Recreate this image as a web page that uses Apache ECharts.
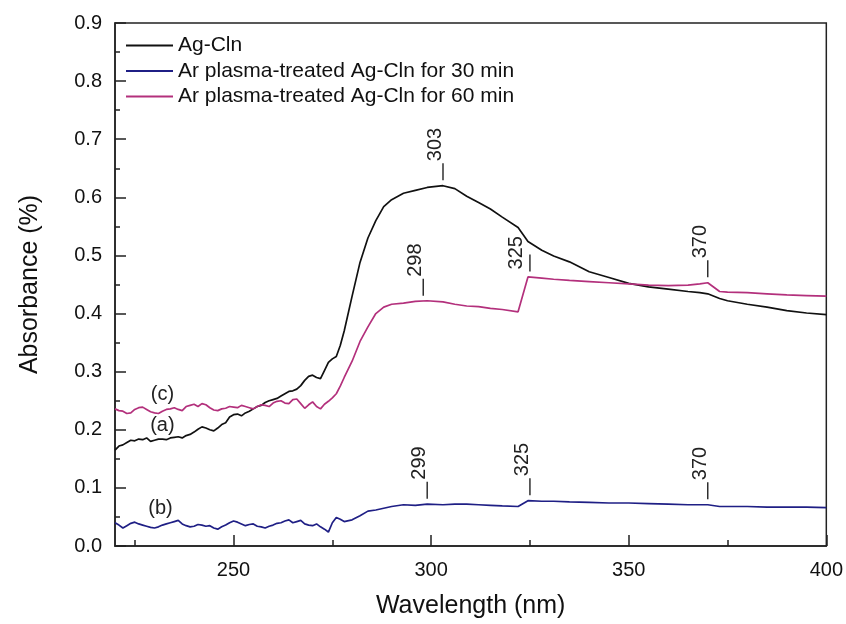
<!DOCTYPE html>
<html>
<head>
<meta charset="utf-8">
<script src="https://cdn.jsdelivr.net/npm/echarts@6/dist/echarts.min.js"></script>
<style>
  html, body { margin: 0; background: #fff; }
  #chart { width: 846px; height: 624px; }
</style>
</head>
<body>
<div id="chart"></div>
<script>
// wavelength grid (nm) shared by all three spectra
const wavelength = [220, 221, 222, 223, 224, 225, 226, 227, 228, 229, 230, 231, 232, 233, 234, 235,
  236, 237, 238, 239, 240, 241, 242, 243, 244, 245, 246, 247, 248, 249, 250, 251, 252, 253, 254, 255,
  256, 257, 258, 259, 260, 261, 262, 263, 264, 265, 266, 267, 268, 269, 270, 271, 272, 273, 274, 275,
  276, 277, 278,
  280, 282, 284, 286, 288, 290, 293, 296, 299, 303, 306, 309, 312, 315, 318, 322, 324.5, 328, 331,
  335, 340, 345, 350, 355, 360, 365, 368, 370, 373, 375, 380, 385, 390, 395, 400];

// (a) Ag-Cln
const agCln = [0.165, 0.172, 0.174, 0.178, 0.182, 0.181, 0.184, 0.183, 0.186, 0.180, 0.182, 0.184,
  0.184, 0.183, 0.186, 0.187, 0.188, 0.186, 0.190, 0.192, 0.196, 0.201, 0.205, 0.203, 0.200, 0.198,
  0.203, 0.209, 0.212, 0.222, 0.226, 0.227, 0.224, 0.229, 0.232, 0.236, 0.240, 0.242, 0.247, 0.250,
  0.252, 0.254, 0.258, 0.262, 0.266, 0.267, 0.270, 0.276, 0.285, 0.292, 0.294, 0.290, 0.288, 0.302,
  0.316, 0.322, 0.326, 0.345, 0.370,
  0.430, 0.488, 0.530, 0.560, 0.584, 0.596, 0.607, 0.612, 0.617, 0.620, 0.615, 0.602, 0.591, 0.580,
  0.566, 0.548, 0.524, 0.509, 0.499, 0.489, 0.472, 0.462, 0.452, 0.446, 0.442, 0.438, 0.436, 0.434,
  0.426, 0.422, 0.416, 0.411, 0.405, 0.401, 0.398];

// (b) Ar plasma 30 min
const plasma30 = [0.040, 0.036, 0.031, 0.035, 0.039, 0.041, 0.038, 0.036, 0.034, 0.032, 0.031, 0.033,
  0.036, 0.038, 0.040, 0.042, 0.044, 0.038, 0.035, 0.033, 0.034, 0.037, 0.036, 0.034, 0.035, 0.031,
  0.029, 0.033, 0.036, 0.040, 0.043, 0.041, 0.038, 0.035, 0.037, 0.038, 0.034, 0.033, 0.031, 0.034,
  0.036, 0.039, 0.040, 0.043, 0.045, 0.040, 0.042, 0.044, 0.038, 0.036, 0.035, 0.038, 0.033, 0.029,
  0.024, 0.040, 0.049, 0.046, 0.042,
  0.045, 0.052, 0.060, 0.062, 0.065, 0.068, 0.071, 0.070, 0.072, 0.071, 0.072, 0.072, 0.071, 0.070,
  0.069, 0.068, 0.078, 0.077, 0.077, 0.076, 0.075, 0.074, 0.074, 0.073, 0.072, 0.071, 0.071, 0.071,
  0.068, 0.068, 0.068, 0.067, 0.067, 0.067, 0.066];

// (c) Ar plasma 60 min
const plasma60 = [0.236, 0.233, 0.232, 0.228, 0.229, 0.235, 0.238, 0.239, 0.235, 0.231, 0.229, 0.228,
  0.232, 0.235, 0.236, 0.238, 0.235, 0.233, 0.240, 0.242, 0.244, 0.240, 0.245, 0.243, 0.238, 0.234,
  0.233, 0.236, 0.237, 0.240, 0.239, 0.238, 0.242, 0.240, 0.238, 0.236, 0.240, 0.243, 0.242, 0.240,
  0.246, 0.249, 0.250, 0.246, 0.245, 0.252, 0.253, 0.245, 0.237, 0.243, 0.248, 0.240, 0.236, 0.244,
  0.249, 0.255, 0.262, 0.275, 0.290,
  0.318, 0.352, 0.377, 0.400, 0.411, 0.416, 0.418, 0.421, 0.422, 0.420, 0.416, 0.413, 0.412, 0.409,
  0.407, 0.403, 0.463, 0.461, 0.459, 0.457, 0.455, 0.453, 0.451, 0.449, 0.448, 0.449, 0.451, 0.453,
  0.438, 0.437, 0.436, 0.434, 0.432, 0.431, 0.430];

// peak marks [nm, absorbance]
const peaksA = [[303, 0.620]];
const peaksB = [[299, 0.072], [325, 0.078], [370, 0.071]];
const peaksC = [[298, 0.421], [325, 0.463], [370, 0.453]];

// curve tags [nm, absorbance, text]
const tagA = [232, 0.207, '(a)'];
const tagB = [231.5, 0.065, '(b)'];
const tagC = [232, 0.261, '(c)'];

const xMajor = [250, 300, 350, 400];
const xMinor = [225, 275, 325, 375];

const names = ['Ag-Cln', 'Ar plasma-treated Ag-Cln for 30 min', 'Ar plasma-treated Ag-Cln for 60 min'];
const colors = ['#111111', '#1f1f85', '#b3307c'];

const axisColor = '#222';
const font = 'Liberation Sans, Arial, sans-serif';

function pairs(ys) {
  return wavelength.map((x, i) => [x, ys[i]]);
}

// beside: peaks whose label sits next to the tick instead of above it
function marks(peaks, tag, beside) {
  beside = beside || [];
  let data = peaks.map(p => ({
    name: String(p[0]),
    coord: [p[0], p[1]],
    symbol: 'rect',
    symbolSize: [1.4, 17],
    symbolOffset: [0, -14],
    itemStyle: {color: axisColor},
    label: {
      show: true,
      position: beside.includes(p[0]) ? [-3, 15] : [3, -2],
      rotate: 90, align: 'left', verticalAlign: 'bottom',
      fontSize: 20, color: axisColor, fontFamily: font
    }
  }));
  data.push({
    name: tag[2],
    coord: [tag[0], tag[1]],
    symbol: 'circle',
    symbolSize: 1,
    itemStyle: {color: 'rgba(0,0,0,0)'},
    label: {show: true, position: 'inside', fontSize: 20, color: axisColor, fontFamily: font}
  });
  return {
    silent: true,
    animation: false,
    label: {formatter: p => p.name},
    data: data
  };
}

const chart = echarts.init(document.getElementById('chart'));

const option = {
  animation: false,
  textStyle: {fontFamily: font},
  grid: {
    left: 115, right: 19, top: 23, bottom: 74,
    show: true, borderColor: axisColor, borderWidth: 1.5
  },
  legend: {
    orient: 'vertical',
    left: 121, top: 30,
    icon: 'rect',
    itemWidth: 47, itemHeight: 2, itemGap: 4.5,
    textStyle: {fontSize: 21, color: '#111', fontFamily: font},
    data: names
  },
  xAxis: [
    {
      type: 'value', min: 220, max: 400,
      name: 'Wavelength (nm)', nameLocation: 'middle', nameGap: 48,
      nameTextStyle: {fontSize: 25, color: '#111'},
      axisLine: {lineStyle: {color: axisColor, width: 1.5}},
      axisTick: {inside: true, length: 11, customValues: xMajor, lineStyle: {color: axisColor, width: 1.5}},
      axisLabel: {customValues: xMajor, fontSize: 20, color: '#111', margin: 14},
      splitLine: {show: false}
    },
    {
      type: 'value', min: 220, max: 400, position: 'bottom',
      axisLine: {show: false},
      axisTick: {inside: true, length: 6, customValues: xMinor, lineStyle: {color: axisColor, width: 1.5}},
      axisLabel: {show: false},
      splitLine: {show: false}
    }
  ],
  yAxis: {
    type: 'value', min: 0, max: 0.9, interval: 0.1,
    name: 'Absorbance (%)', nameLocation: 'middle', nameGap: 72,
    nameTextStyle: {fontSize: 25, color: '#111'},
    axisLine: {show: true, lineStyle: {color: axisColor, width: 1.5}},
    axisTick: {show: true, inside: true, length: 11, lineStyle: {color: axisColor, width: 1.5}},
    minorTick: {show: true, splitNumber: 2, length: 5, lineStyle: {color: axisColor, width: 1.5}},
    axisLabel: {fontSize: 20, color: '#111', margin: 13, formatter: v => v.toFixed(1)},
    splitLine: {show: false}
  },
  series: [
    {
      name: names[0], type: 'line', symbol: 'none', data: pairs(agCln),
      lineStyle: {color: colors[0], width: 1.7}, itemStyle: {color: colors[0]},
      markPoint: marks(peaksA, tagA)
    },
    {
      name: names[1], type: 'line', symbol: 'none', data: pairs(plasma30),
      lineStyle: {color: colors[1], width: 1.7}, itemStyle: {color: colors[1]},
      markPoint: marks(peaksB, tagB)
    },
    {
      name: names[2], type: 'line', symbol: 'none', data: pairs(plasma60),
      lineStyle: {color: colors[2], width: 1.7}, itemStyle: {color: colors[2]},
      markPoint: marks(peaksC, tagC, [325])
    }
  ]
};

chart.setOption(option);
</script>
</body>
</html>
